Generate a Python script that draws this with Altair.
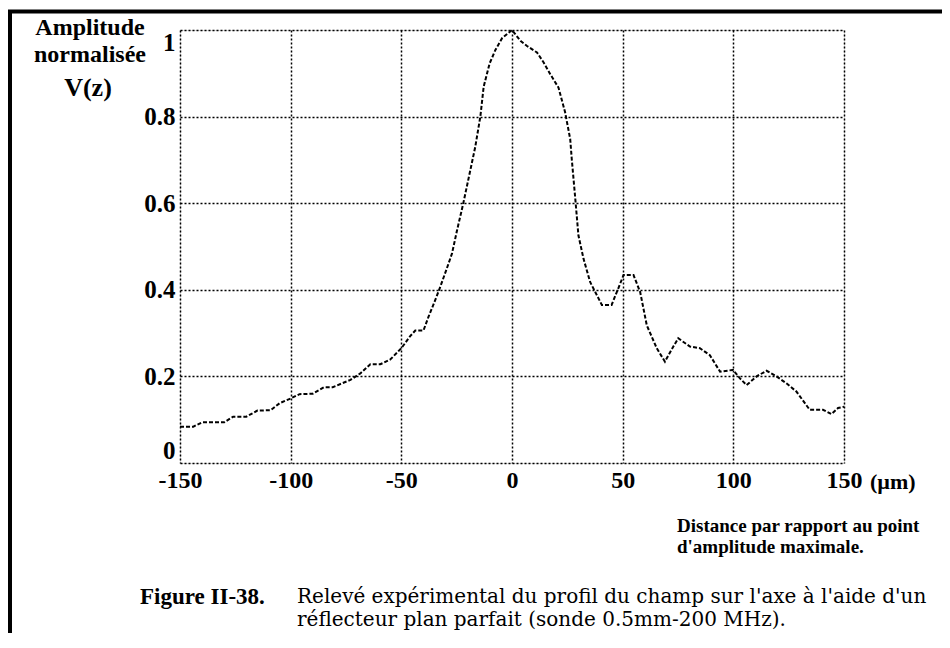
import altair as alt
import pandas as pd

# ---- data ----
distance_um = [-150, -144, -140, -130, -126, -120, -115, -109, -105, -100,
               -96, -90, -85, -81, -73, -68.5, -64, -59.5, -55, -50,
               -46, -43.7, -40, -37.7, -34.7, -32.4, -29.4, -27.1, -24.8, -22,
               -18.8, -16.6, -14.3, -12.8, -10.1, -7.5, -4.5, 0, 3.8, 6.8,
               11.3, 14.3, 17.3, 21, 24, 26.3, 27, 28.6, 30, 32.3,
               35.3, 38.3, 40.6, 45, 48, 50.4, 54.9, 57.9, 60.9, 65.4,
               69.1, 72.9, 75.1, 80.4, 84.9, 89.4, 94, 99.9, 102.9, 106,
               110.5, 115, 119.5, 124, 128.5, 134.5, 140.5, 144.3, 147.3, 150]
amplitude = [0.084, 0.084, 0.094, 0.094, 0.107, 0.107, 0.121, 0.122, 0.138, 0.149,
             0.159, 0.160, 0.175, 0.175, 0.192, 0.207, 0.228, 0.228, 0.239, 0.265,
             0.293, 0.306, 0.306, 0.338, 0.376, 0.407, 0.450, 0.484, 0.538, 0.600,
             0.677, 0.730, 0.800, 0.869, 0.923, 0.954, 0.981, 1.000, 0.975, 0.963,
             0.948, 0.925, 0.898, 0.867, 0.810, 0.748, 0.702, 0.610, 0.526, 0.472,
             0.418, 0.388, 0.365, 0.365, 0.403, 0.434, 0.434, 0.395, 0.318, 0.265,
             0.234, 0.269, 0.288, 0.269, 0.265, 0.249, 0.211, 0.215, 0.196, 0.180,
             0.200, 0.213, 0.200, 0.184, 0.165, 0.123, 0.123, 0.113, 0.127, 0.130]

x_ticks = [-150, -100, -50, 0, 50, 100, 150]
y_ticks = [0, 0.2, 0.4, 0.6, 0.8, 1]

ylabel_lines = ["Amplitude", "normalisée", "V(z)"]
x_unit = "(µm)"
xlabel_lines = ["Distance par rapport au point", "d'amplitude maximale."]
fig_label = "Figure II-38."
caption_lines = ["Relevé expérimental du profil du champ sur l'axe à l'aide d'un",
                 "réflecteur plan parfait (sonde 0.5mm-200 MHz)."]

W, H = 664, 433
BOLD = "Liberation Serif"
PLAIN = "DejaVu Serif"

df = pd.DataFrame({"x": distance_um, "v": amplitude})

base = alt.Chart(df)

curve = base.mark_line(color="black", strokeWidth=2, strokeDash=[4, 2]).encode(
    x=alt.X("x:Q",
            scale=alt.Scale(domain=[-150, 150], nice=False, zero=False),
            axis=alt.Axis(values=x_ticks, title=None, grid=True, gridColor="black",
                          gridDash=[2, 2], gridWidth=1.5, gridOpacity=1,
                          domain=False, ticks=False,
                          labelFont=BOLD, labelFontWeight="bold", labelFontSize=24,
                          labelColor="black", labelPadding=5, labelFlush=False,
                          labelExpr="'' + datum.value")),
    y=alt.Y("v:Q",
            scale=alt.Scale(domain=[0, 1], nice=False),
            axis=alt.Axis(values=y_ticks, title=None, grid=True, gridColor="black",
                          gridDash=[2, 2], gridWidth=1.5, gridOpacity=1,
                          domain=False, ticks=False,
                          labelFont=BOLD, labelFontWeight="bold", labelFontSize=25,
                          labelColor="black", labelPadding=5, labelFlush=True,
                          labelExpr="'' + datum.value")),
)


def txt(s, x, y, size, weight="bold", align="center", font=BOLD):
    return alt.Chart(pd.DataFrame({"t": [s]})).mark_text(
        font=font, fontSize=size, fontWeight=weight, color="black",
        align=align, baseline="middle"
    ).encode(text="t:N", x=alt.value(x), y=alt.value(y))


texts = [
    txt(ylabel_lines[0], -90, -2, 24),
    txt(ylabel_lines[1], -90, 25, 24),
    txt(ylabel_lines[2], -92, 58, 26),
    txt(x_unit, 690, 452, 22, align="left"),
    txt(xlabel_lines[0], 497, 496, 19, align="left"),
    txt(xlabel_lines[1], 497, 517, 19, align="left"),
    txt(fig_label, -40, 567, 23, align="left"),
    txt(caption_lines[0], 117, 567, 20, weight="normal", align="left", font=PLAIN),
    txt(caption_lines[1], 117, 590, 20, weight="normal", align="left", font=PLAIN),
]

frame_left = alt.Chart(pd.DataFrame({"a": [0]})).mark_rule(color="black", strokeWidth=4).encode(
    x=alt.value(-170), y=alt.value(-20), y2=alt.value(620))
frame_top = alt.Chart(pd.DataFrame({"a": [0]})).mark_rule(color="black", strokeWidth=4).encode(
    x=alt.value(-172), x2=alt.value(765), y=alt.value(-18.5))

chart = alt.layer(curve, frame_left, frame_top, *texts).properties(
    width=W, height=H,
    autosize="none",
    padding={"left": 172, "top": 22, "right": 98, "bottom": 170},
).configure_view(stroke="black", strokeWidth=2.5).configure(background="white")

chart.save("out.html", embed_options={"renderer": "svg", "actions": False})
